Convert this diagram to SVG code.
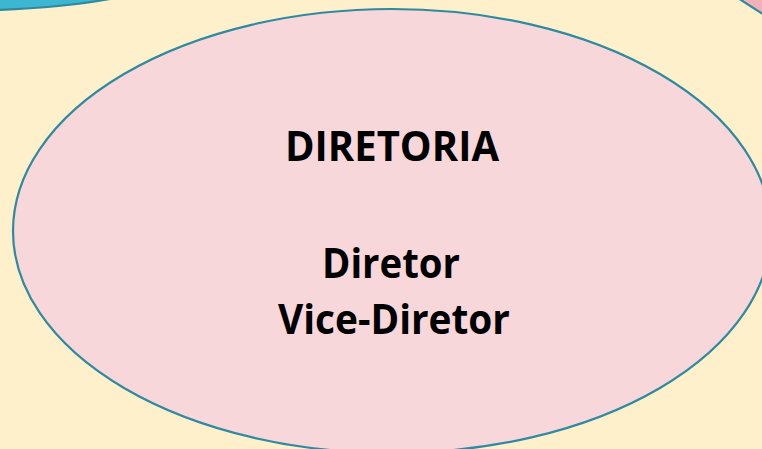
<svg xmlns="http://www.w3.org/2000/svg" width="762" height="449" viewBox="0 0 762 449">
  <style>
    .lbl { font-family: "Open Sans", "Liberation Sans", Arial, sans-serif; font-weight: bold; fill: #000; text-anchor: middle; }
    .edge { stroke: #2E8A9F; stroke-width: 2.2; }
  </style>
  <rect width="762" height="449" fill="#FEF0CB"/>
  <g id="node-left-partial">
    <path class="edge" d="M -5 10 Q 60 8 110 -1 L 110 -5 L -5 -5 Z" fill="#3DB6D2"/>
  </g>
  <g id="node-right-partial">
    <path class="edge" d="M 738 -2 Q 750 6 766 16 L 766 -5 L 738 -5 Z" fill="#F2B1B8"/>
  </g>
  <g id="node-diretoria">
    <ellipse class="edge" cx="392" cy="231" rx="379" ry="222" fill="#F8D7DA"/>
    <text class="lbl" x="392" y="161" font-size="41" textLength="214" lengthAdjust="spacingAndGlyphs">DIRETORIA</text>
    <text class="lbl" x="391" y="278" font-size="41" textLength="138" lengthAdjust="spacingAndGlyphs">Diretor</text>
    <text class="lbl" x="394" y="334" font-size="41" textLength="232" lengthAdjust="spacingAndGlyphs">Vice-Diretor</text>
  </g>
  <g id="connectors"></g>
</svg>
